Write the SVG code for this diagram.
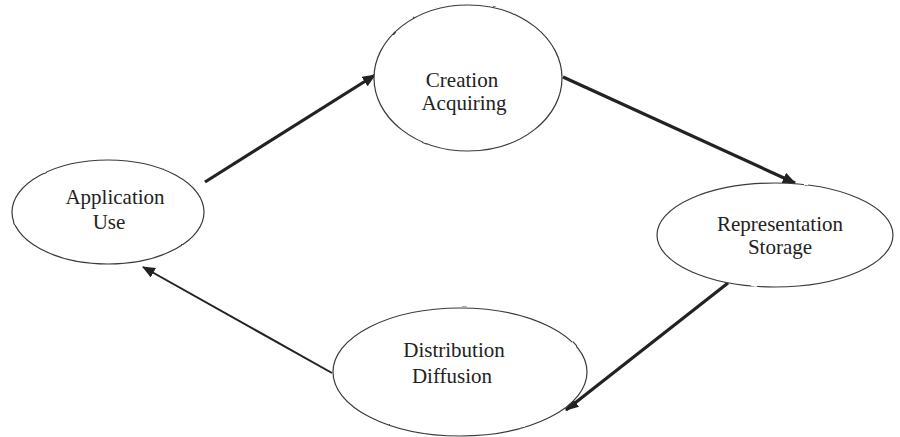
<svg xmlns="http://www.w3.org/2000/svg" width="900" height="437" viewBox="0 0 900 437">
<style>
.node ellipse{fill:#fff;stroke:#3a3a3a;stroke-width:1.2;filter:url(#wobble)}
.node text{font-family:"Liberation Serif","Times New Roman",serif;font-size:21px;fill:#222;text-anchor:middle}
.conn line{stroke:#222;stroke-width:3.2;marker-end:url(#ah)}
</style>
<defs>
<filter id="wobble" x="-5%" y="-5%" width="110%" height="110%">
<feTurbulence type="fractalNoise" baseFrequency="0.1" numOctaves="1" seed="3"/>
<feDisplacementMap in="SourceGraphic" scale="2" xChannelSelector="R" yChannelSelector="G"/>
</filter>
<marker id="ah" viewBox="0 0 12 10" refX="11" refY="5" markerWidth="4.2" markerHeight="3.5" orient="auto" markerUnits="strokeWidth">
<path d="M0,0 L12,5 L0,10 z" fill="#222"/>
</marker>
<marker id="ah2" viewBox="0 0 12 10" refX="11" refY="5" markerWidth="6.5" markerHeight="5.4" orient="auto" markerUnits="strokeWidth">
<path d="M0,0 L12,5 L0,10 z" fill="#222"/>
</marker>
</defs>
<g class="conn" id="connectors">
<line x1="205" y1="182" x2="375" y2="75"/>
<line x1="563" y1="77" x2="795" y2="183"/>
<line x1="728" y1="283" x2="566" y2="410"/>
<line x1="332" y1="373" x2="143" y2="267" style="stroke-width:2;marker-end:url(#ah2)"/>
</g>
<g class="node" id="creation">
<ellipse cx="468" cy="78" rx="94" ry="73"/>
<text x="462" y="87">Creation</text>
<text x="464" y="110">Acquiring</text>
</g>
<g class="node" id="application">
<ellipse cx="108" cy="212" rx="96" ry="52"/>
<text x="115" y="204">Application</text>
<text x="109" y="229">Use</text>
</g>
<g class="node" id="representation">
<ellipse cx="775" cy="235" rx="118" ry="52"/>
<text x="780" y="231">Representation</text>
<text x="780" y="254">Storage</text>
</g>
<g class="node" id="distribution">
<ellipse cx="460" cy="372" rx="127" ry="64"/>
<text x="454" y="357">Distribution</text>
<text x="452" y="383">Diffusion</text>
</g>
</svg>
